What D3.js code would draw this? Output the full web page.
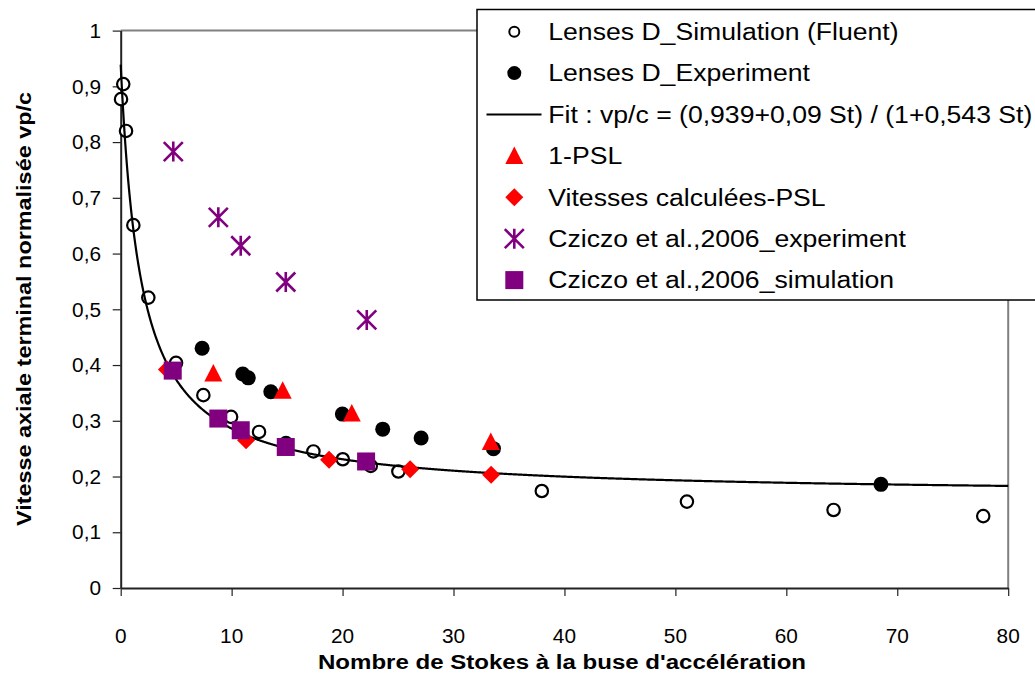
<!DOCTYPE html>
<html>
<head>
<meta charset="utf-8">
<script src="https://cdn.jsdelivr.net/npm/d3@7"></script>
<style>
  html, body { margin: 0; padding: 0; background: #fff; }
  svg { display: block; font-family: "Liberation Sans", Arial, sans-serif; }
</style>
</head>
<body>
<svg id="chart" width="1035" height="675"></svg>
<script>
// ---------- data ----------
const simX = [0.03, 0.23, 0.48, 1.14, 2.49, 4.99, 7.45, 9.95, 12.47, 14.9, 17.37, 20.02, 22.54, 25.03, 37.96, 51.04, 64.26, 77.75];
const simY = [0.877, 0.904, 0.820, 0.651, 0.521, 0.404, 0.346, 0.307, 0.280, 0.260, 0.245, 0.231, 0.219, 0.209, 0.174, 0.155, 0.140, 0.129];

const expX = [7.34, 11.0, 11.5, 13.53, 19.98, 23.62, 27.08, 33.6, 68.53];
const expY = [0.430, 0.384, 0.377, 0.352, 0.312, 0.285, 0.269, 0.250, 0.186];

// Fit : vp/c = (a + b St) / (1 + c St), coefficients printed in the legend
const fitCoef = [0.939, 0.09, 0.543];
const fitRange = [0, 80];

const pslX = [8.35, 14.6, 20.83, 33.36];
const pslY = [0.385, 0.354, 0.313, 0.262];

const calcX = [4.17, 11.3, 18.78, 26.09, 33.39];
const calcY = [0.392, 0.265, 0.230, 0.213, 0.203];

const czExpX = [4.74, 8.8, 10.82, 14.88, 22.18];
const czExpY = [0.783, 0.665, 0.614, 0.549, 0.481];

const czSimX = [4.69, 8.8, 10.82, 14.88, 22.12];
const czSimY = [0.390, 0.304, 0.283, 0.253, 0.227];

const xTicks = [0, 10, 20, 30, 40, 50, 60, 70, 80];
const xTickLabels = ["0", "10", "20", "30", "40", "50", "60", "70", "80"];
const yTicks = [0, 0.1, 0.2, 0.3, 0.4, 0.5, 0.6, 0.7, 0.8, 0.9, 1];
const yTickLabels = ["0", "0,1", "0,2", "0,3", "0,4", "0,5", "0,6", "0,7", "0,8", "0,9", "1"];

const legendLabels = [
  "Lenses D_Simulation (Fluent)",
  "Lenses D_Experiment",
  "Fit : vp/c = (0,939+0,09 St) / (1+0,543 St)",
  "1-PSL",
  "Vitesses calculées-PSL",
  "Cziczo et al.,2006_experiment",
  "Cziczo et al.,2006_simulation"
];
const xTitle = "Nombre de Stokes à la buse d'accélération";
const yTitle = "Vitesse axiale terminal normalisée vp/c";

// ---------- layout ----------
const svg = d3.select("#chart");
const L = 120.7, R = 1008.2, T = 30.6, B = 588;
const x = d3.scaleLinear().domain([0, 80]).range([L, R]);
const y = d3.scaleLinear().domain([0, 1]).range([B, T]);

const RED = "#ff0000", PURPLE = "#800080";

// stretch text horizontally by a factor (reference glyphs are wider than Arial)
function stretch(sel, f) {
  sel.each(function () {
    const w = this.getComputedTextLength();
    d3.select(this).attr("textLength", w * f).attr("lengthAdjust", "spacingAndGlyphs");
  });
}

// plot frame (top & right grey)
svg.append("line").attr("x1", L).attr("x2", R).attr("y1", T).attr("y2", T)
  .attr("stroke", "#808080").attr("stroke-width", 2);
svg.append("line").attr("x1", R).attr("x2", R).attr("y1", T).attr("y2", B)
  .attr("stroke", "#808080").attr("stroke-width", 2);

// axes (lines & ticks by d3, labels placed below)
const xAxis = d3.axisBottom(x).tickValues(xTicks).tickSize(8).tickSizeOuter(0).tickFormat("");
const gx = svg.append("g").attr("transform", `translate(0,${B})`).call(xAxis);
gx.select(".domain").attr("stroke", "#222").attr("stroke-width", 2);
gx.selectAll(".tick line").attr("stroke", "#222").attr("stroke-width", 1.2);
gx.selectAll(".tick text").remove();

const yAxis = d3.axisLeft(y).tickValues(yTicks).tickSize(8).tickSizeOuter(0).tickFormat("");
const gy = svg.append("g").attr("transform", `translate(${L},0)`).call(yAxis);
gy.select(".domain").attr("stroke", "#222").attr("stroke-width", 2);
gy.selectAll(".tick line").attr("stroke", "#222").attr("stroke-width", 1.2);
gy.selectAll(".tick text").remove();

const xl = svg.append("g").selectAll("text").data(xTicks).join("text")
  .attr("x", d => x(d)).attr("y", 643).attr("text-anchor", "middle")
  .attr("font-size", 20).attr("fill", "#000")
  .text((d, i) => xTickLabels[i]);
stretch(xl, 1.04);

const yl = svg.append("g").selectAll("text").data(yTicks).join("text")
  .attr("x", 101).attr("y", d => y(d)).attr("dy", "0.36em").attr("text-anchor", "end")
  .attr("font-size", 20).attr("fill", "#000")
  .text((d, i) => yTickLabels[i]);
stretch(yl, 1.04);

// titles
const xt = svg.append("text").attr("x", 562).attr("y", 669).attr("text-anchor", "middle")
  .attr("font-size", 20).attr("font-weight", "bold").text(xTitle);
xt.attr("textLength", 488).attr("lengthAdjust", "spacingAndGlyphs");
const yt = svg.append("text").attr("transform", "translate(31,309) rotate(-90)").attr("text-anchor", "middle")
  .attr("font-size", 20.5).attr("font-weight", "bold").text(yTitle);
yt.attr("textLength", 434).attr("lengthAdjust", "spacingAndGlyphs");

// ---------- marker helpers ----------
function drawMarker(g, type, cx, cy) {
  switch (type) {
    case "open":
      g.append("circle").attr("cx", cx).attr("cy", cy).attr("r", 6.2)
        .attr("fill", "#fff").attr("stroke", "#000").attr("stroke-width", 2.2);
      break;
    case "filled":
      g.append("circle").attr("cx", cx).attr("cy", cy).attr("r", 7.5).attr("fill", "#000");
      break;
    case "tri":
      g.append("path").attr("d", `M${cx},${cy - 9.5}L${cx + 9},${cy + 8}L${cx - 9},${cy + 8}Z`).attr("fill", RED);
      break;
    case "dia":
      g.append("path").attr("d", `M${cx},${cy - 9}L${cx + 9},${cy}L${cx},${cy + 9}L${cx - 9},${cy}Z`).attr("fill", RED);
      break;
    case "star": {
      const h = 10, dx = 9.5, dy = 9.5;
      g.append("path").attr("d",
        `M${cx},${cy - h}L${cx},${cy + h}M${cx - dx},${cy - dy}L${cx + dx},${cy + dy}M${cx - dx},${cy + dy}L${cx + dx},${cy - dy}`)
        .attr("stroke", PURPLE).attr("stroke-width", 2.6).attr("fill", "none");
      break;
    }
    case "square":
      g.append("rect").attr("x", cx - 9).attr("y", cy - 9).attr("width", 18).attr("height", 18).attr("fill", PURPLE);
      break;
  }
}

function series(xs, ys, type) {
  const g = svg.append("g");
  xs.forEach((v, i) => drawMarker(g, type, x(v), y(ys[i])));
}

// ---------- series ----------
series(simX, simY, "open");
series(expX, expY, "filled");

// fit curve from the coefficients printed in the legend
const fitSt = d3.range(0, 400.001, 0.25).map(v => v * (fitRange[1] - fitRange[0]) / 400 + fitRange[0]);
const fitLine = d3.line()
  .x(d => x(d))
  .y(d => y((fitCoef[0] + fitCoef[1] * d) / (1 + fitCoef[2] * d)));
svg.append("path").datum(fitSt).attr("d", fitLine)
  .attr("fill", "none").attr("stroke", "#000").attr("stroke-width", 2.2);

series(pslX, pslY, "tri");
series(calcX, calcY, "dia");
series(czExpX, czExpY, "star");
series(czSimX, czSimY, "square");

// ---------- legend ----------
const lg = svg.append("g");
lg.append("rect").attr("x", 477).attr("y", 9.5).attr("width", 600).attr("height", 290.5)
  .attr("fill", "#fff").attr("stroke", "#000").attr("stroke-width", 1.5);
const legendTypes = ["open", "filled", "line", "tri", "dia", "star", "square"];
const rowY0 = 31.7, rowStep = 41.4;
legendLabels.forEach((lab, i) => {
  const cy = rowY0 + i * rowStep;
  if (legendTypes[i] === "line") {
    lg.append("line").attr("x1", 486.5).attr("x2", 541.5).attr("y1", cy).attr("y2", cy)
      .attr("stroke", "#000").attr("stroke-width", 2.2);
  } else if (legendTypes[i] === "open") {
    lg.append("circle").attr("cx", 514.3).attr("cy", cy).attr("r", 5)
      .attr("fill", "#fff").attr("stroke", "#000").attr("stroke-width", 2);
  } else if (legendTypes[i] === "filled") {
    lg.append("circle").attr("cx", 514.3).attr("cy", cy).attr("r", 7).attr("fill", "#000");
  } else {
    drawMarker(lg, legendTypes[i], 514.3, cy);
  }
  const t = lg.append("text").attr("x", 548.3).attr("y", cy).attr("dy", "0.36em")
    .attr("font-size", 23).attr("fill", "#000").text(lab);
  stretch(t, 1.156);
});
</script>
</body>
</html>
